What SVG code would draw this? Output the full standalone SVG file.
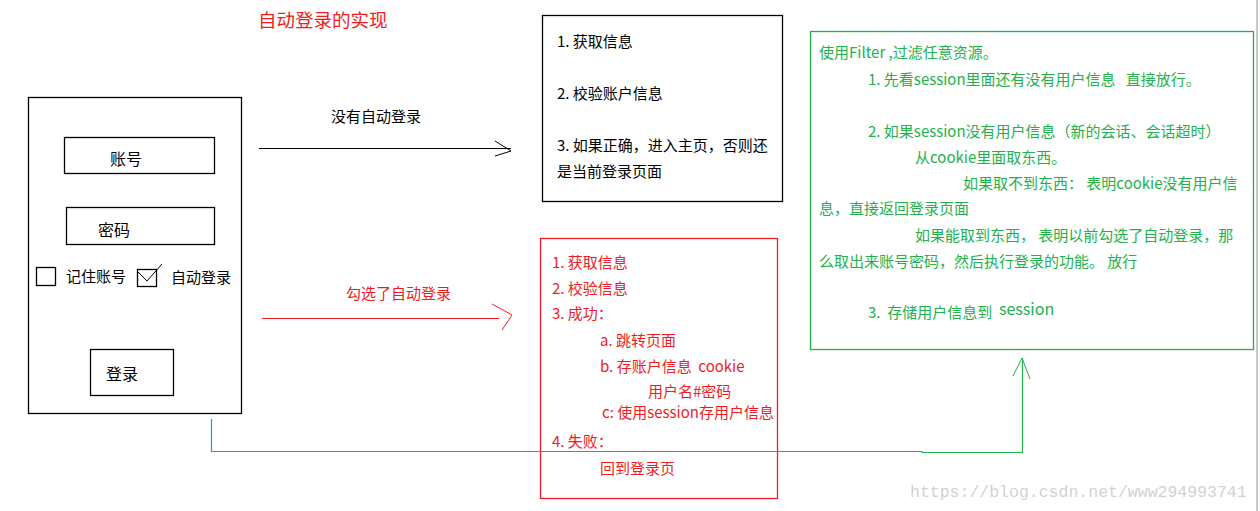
<svg xmlns="http://www.w3.org/2000/svg" width="1260" height="511" viewBox="0 0 1260 511">
<style>
text{font-family:"Noto Sans CJK SC","Microsoft YaHei",sans-serif;font-size:15px;white-space:pre}
.k{fill:#000}
.r{fill:#ed1c24}
.g{fill:#22b14c}
.box{fill:none;stroke:#000;stroke-width:1.3}
.rb{fill:none;stroke:#ed1c24;stroke-width:1.3}
.gb{fill:none;stroke:#22b14c;stroke-width:1.3}
</style>
<rect width="1260" height="511" fill="#fff"/>
<text x="258" y="27" class="r" style="font-size:18.5px">自动登录的实现</text>

<g id="login-form">
<rect x="28.5" y="97.5" width="213" height="316" class="box"/>
<g id="account"><rect x="64.5" y="137.5" width="150" height="36" class="box"/><text x="110" y="165" class="k" style="font-size:16px">账号</text></g>
<g id="password"><rect x="66.5" y="207.5" width="148" height="37" class="box"/><text x="98" y="236" class="k" style="font-size:16px">密码</text></g>
<g id="remember"><rect x="36.5" y="267.5" width="19" height="18" class="box"/><text x="66" y="282" class="k">记住账号</text></g>
<g id="autologin"><rect x="137.5" y="269.5" width="19" height="17" class="box"/><polyline points="138,272 147,281 162,264" fill="none" stroke="#000" stroke-width="1"/><text x="171" y="283" class="k">自动登录</text></g>
<g id="login-btn"><rect x="90.5" y="349.5" width="83" height="46" class="box"/><text x="106" y="380" class="k" style="font-size:16px">登录</text></g>
</g>

<g id="no-auto-box">
<rect x="542.5" y="15.5" width="240" height="186" class="box"/>
<text x="557" y="47" class="k">1. 获取信息</text>
<text x="557" y="99" class="k">2. 校验账户信息</text>
<text x="557" y="151" class="k">3. 如果正确，进入主页，否则还</text>
<text x="557" y="177" class="k">是当前登录页面</text>
</g>

<g id="auto-box">
<rect x="540.5" y="238.5" width="237" height="260" class="rb"/>
<text x="552" y="268" class="r">1. 获取信息</text>
<text x="552" y="294" class="r">2. 校验信息</text>
<text x="552" y="319" class="r">3. 成功：</text>
<text x="600" y="346" class="r">a. 跳转页面</text>
<text x="600" y="372" class="r">b. 存账户信息  cookie</text>
<text x="648" y="397" class="r">用户名#密码</text>
<text x="602" y="418" class="r">c: 使用session存用户信息</text>
<text x="552" y="447" class="r">4. 失败：</text>
<text x="600" y="474" class="r">回到登录页</text>
</g>

<g id="filter-box">
<rect x="810.5" y="31.5" width="443" height="318" class="gb"/>
<text x="819" y="58" class="g">使用Filter ,过滤任意资源。</text>
<text x="868" y="85" class="g">1. 先看session里面还有没有用户信息   直接放行。</text>
<text x="868" y="137" class="g">2. 如果session没有用户信息（新的会话、会话超时）</text>
<text x="915" y="163" class="g">从cookie里面取东西。</text>
<text x="963" y="189" class="g">如果取不到东西： 表明cookie没有用户信</text>
<text x="819" y="214" class="g">息，直接返回登录页面</text>
<text x="915" y="241" class="g">如果能取到东西， 表明以前勾选了自动登录，那</text>
<text x="819" y="267" class="g">么取出来账号密码，然后执行登录的功能。 放行</text>
<text x="868" y="318" class="g">3.  存储用户信息到</text>
<text x="999" y="315" class="g" style="font-size:16px">session</text>
</g>

<g id="connectors" fill="none">
<g id="c-no-auto">
<line x1="259" y1="148.5" x2="511" y2="148.5" stroke="#000" stroke-width="1.2"/>
<polyline points="495,141 511,151 495,156" stroke="#000" stroke-width="1"/>
<text x="331" y="122" class="k">没有自动登录</text>
</g>
<g id="c-auto">
<line x1="262" y1="318.5" x2="499" y2="318.5" stroke="#ed1c24" stroke-width="1.2"/>
<polyline points="492,304 512,315 502,330" stroke="#ed1c24" stroke-width="1"/>
<text x="346" y="299" class="r">勾选了自动登录</text>
</g>
<g id="c-filter">
<polyline points="211.5,419 211.5,451.5 922,451.5 922,452.5 1022.5,452.5 1022.5,358" stroke="#22b14c" stroke-width="1.2"/>
<polyline points="1013,376 1022,358 1030,379" stroke="#22b14c" stroke-width="1"/>
</g>
</g>

<line x1="1257" y1="0" x2="1257" y2="511" stroke="#c8c8c8" stroke-width="2"/>
<text x="910" y="497" style="font-family:'Liberation Mono',monospace;font-size:16.5px;fill:#d2d2d2">https://blog.csdn.net/www294993741</text>
</svg>
